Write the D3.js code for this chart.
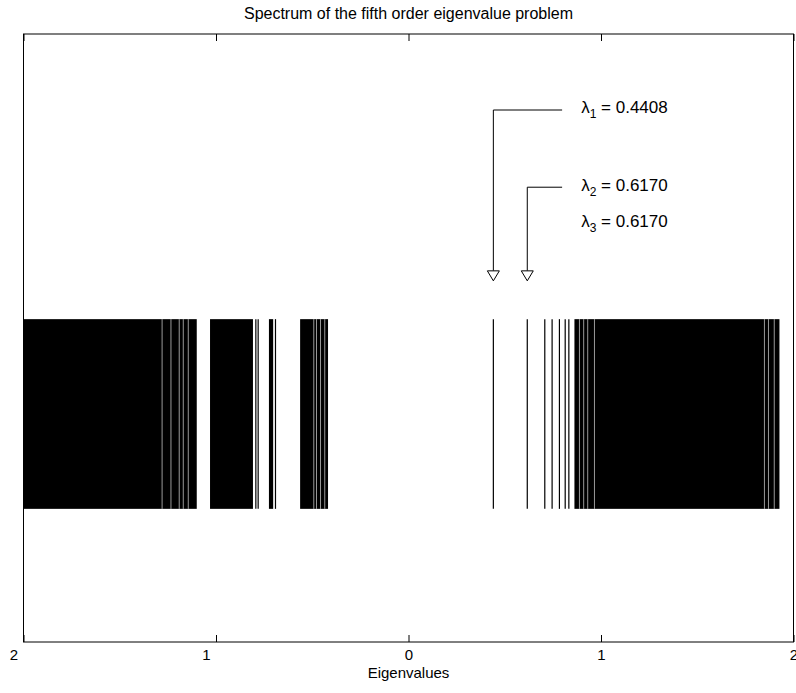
<!DOCTYPE html>
<html>
<head>
<meta charset="utf-8">
<script src="https://cdn.jsdelivr.net/npm/d3@7.9.0/dist/d3.min.js"></script>
<style>
  body { margin: 0; background: #fff; }
  svg { display: block; font-family: "Liberation Sans", Arial, sans-serif; }
</style>
</head>
<body>
<svg id="chart" width="796" height="693"></svg>
<script>
// clusters of eigenvalues packed so tight they print as solid blocks [from, to]
const clusters = [
  [-2.000, -1.100],
  [-1.031, -0.808],
  [-0.725, -0.703],
  [-0.563, -0.418],
  [0.862, 1.927]
];
// thin light gaps inside those blocks
const gaps = [-1.280, -1.234, -1.191, -1.170, -1.144,
  -0.492, -0.478, -0.457, -0.435,
  0.888, 0.910, 0.931, 0.966, 1.849, 1.870, 1.900];
// isolated eigenvalues
const eigenvalues = [-0.793, -0.781, -0.691, 0.4408, 0.6170, 0.708, 0.746, 0.784, 0.814, 0.833];
const xTicks = [-2, -1, 0, 1, 2];
// annotation: arrows pointing at the first eigenvalues, and the labels
const arrowTargets = [0.4408, 0.6170];
const arrowElbows = [0.875, 0.748];
const labelSubs = ["1", "2", "3"];
const labelValues = ["0.4408", "0.6170", "0.6170"];
const labelRows = [0.870, 0.742, 0.683];

const width = 796, height = 693;
const margin = { top: 34, right: 2.5, bottom: 51, left: 23.5 };

const svg = d3.select('#chart');

const x = d3.scaleLinear().domain([-2, 2]).range([margin.left, width - margin.right]);
const y = d3.scaleLinear().domain([0, 1]).range([height - margin.bottom, margin.top]);

const stripLo = 0.219, stripHi = 0.531;

// the spectrum
svg.append('g')
  .selectAll('rect')
  .data(clusters)
  .join('rect')
  .attr('x', d => x(d[0]))
  .attr('width', d => x(d[1]) - x(d[0]))
  .attr('y', y(stripHi))
  .attr('height', y(stripLo) - y(stripHi))
  .attr('fill', '#000');

svg.append('g')
  .selectAll('line')
  .data(gaps)
  .join('line')
  .attr('x1', d => x(d)).attr('x2', d => x(d))
  .attr('y1', y(stripHi)).attr('y2', y(stripLo))
  .attr('stroke', '#fff')
  .attr('stroke-opacity', 0.6)
  .attr('stroke-width', 1);

svg.append('g')
  .selectAll('line')
  .data(eigenvalues)
  .join('line')
  .attr('x1', d => x(d)).attr('x2', d => x(d))
  .attr('y1', y(stripHi)).attr('y2', y(stripLo))
  .attr('stroke', '#000')
  .attr('stroke-width', 1.2);

// axes box
const x0 = x(-2), x1 = x(2), yTop = y(1), yBot = y(0);
svg.append('rect')
  .attr('x', x0).attr('y', yTop)
  .attr('width', x1 - x0).attr('height', yBot - yTop)
  .attr('fill', 'none').attr('stroke', '#000').attr('stroke-width', 1);

// bottom axis (ticks inside, labels as printed)
const bottomAxis = d3.axisBottom(x)
  .tickValues(xTicks)
  .tickSize(-7)
  .tickPadding(7)
  .tickFormat(d => String(Math.abs(d)));

const gx = svg.append('g')
  .attr('transform', `translate(0,${yBot})`)
  .call(bottomAxis);
gx.select('.domain').remove();
gx.selectAll('.tick text')
  .attr('font-size', 15)
  .attr('fill', '#000')
  .attr('font-family', '"Liberation Sans", Arial, sans-serif')
  .attr('dx', d => d < 0 ? -10 : 0);

const topAxis = d3.axisTop(x).tickValues(xTicks).tickSize(-7).tickFormat('');
const gt = svg.append('g')
  .attr('transform', `translate(0,${yTop})`)
  .call(topAxis);
gt.select('.domain').remove();

// titles
svg.append('text')
  .attr('x', x(0)).attr('y', 19)
  .attr('text-anchor', 'middle')
  .attr('font-size', 16)
  .text('Spectrum of the fifth order eigenvalue problem');

svg.append('text')
  .attr('x', x(0)).attr('y', 678)
  .attr('text-anchor', 'middle')
  .attr('font-size', 15)
  .text('Eigenvalues');

// arrows
const elbowEnd = 0.798, labelStart = 0.897;
const tipY = 0.594, headH = 10, headW = 6;

arrowTargets.forEach((t, i) => {
  const ax = x(t), ey = y(arrowElbows[i]), ty = y(tipY);
  svg.append('path')
    .attr('d', `M${x(elbowEnd)},${ey}H${ax}V${ty - headH}`)
    .attr('fill', 'none').attr('stroke', '#000').attr('stroke-width', 1);
  svg.append('path')
    .attr('d', `M${ax - headW},${ty - headH}L${ax + headW},${ty - headH}L${ax},${ty}Z`)
    .attr('fill', '#fff').attr('stroke', '#000').attr('stroke-width', 1);
});

// labels
labelSubs.forEach((s, i) => {
  const t = svg.append('text')
    .attr('x', x(labelStart)).attr('y', y(labelRows[i]))
    .attr('font-size', 17);
  t.append('tspan').text('λ');
  t.append('tspan').attr('dy', 5).attr('font-size', 12).text(s);
  t.append('tspan').attr('dy', -5).text(' = ' + labelValues[i]);
});
</script>
</body>
</html>
